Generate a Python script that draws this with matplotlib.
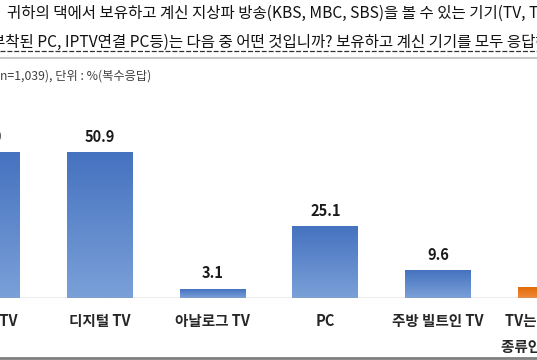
import numpy as np
import matplotlib
matplotlib.use("Agg")
import matplotlib.pyplot as plt
from matplotlib.colors import LinearSegmentedColormap
from matplotlib.lines import Line2D

plt.rcParams['font.family'] = ['Noto Sans CJK KR', 'DejaVu Sans']

# data (first and last bars are cut off at the edges)
categories = ['스마트 TV', '디지털 TV', '아날로그 TV', 'PC', '주방 빌트인 TV', 'TV는 없고 다른\n종류인 기기 보유']
values = [51.0, 50.9, 3.1, 25.1, 9.6, 3.8]
labels = ['51.0', '50.9', '3.1', '25.1', '9.6', '3.8']
is_other = [False, False, False, False, False, True]

header1 = '귀하의 댁에서 보유하고 계신 지상파 방송(KBS, MBC, SBS)을 볼 수 있는 기기(TV, TV수신카드'
header2 = '부착된 PC, IPTV연결 PC등)는 다음 중 어떤 것입니까? 보유하고 계신 기기를 모두 응답해 주십시오.'
note = 'n=1,039), 단위 : %(복수응답)'

W, H = 537, 360
fig = plt.figure(figsize=(W / 100, H / 100), dpi=100)

def fx(px):
    return px / W

def fy(py):
    return 1 - py / H

fig.text(fx(7), fy(13), header1, fontsize=11.2, va='center', ha='left', color='#111111')
fig.text(fx(-9), fy(42), header2, fontsize=11.2, va='center', ha='left', color='#111111')
# dashed underline of the second line
fig.add_artist(Line2D([0, 1], [fy(51), fy(51)], transform=fig.transFigure,
                      color='#333333', lw=0.9, dashes=(4, 1.5)))
# grey rules
fig.add_artist(Line2D([0, 1], [fy(58), fy(58)], transform=fig.transFigure, color='#c8c8c8', lw=1.5))
fig.add_artist(Line2D([0, 1], [fy(358), fy(358)], transform=fig.transFigure, color='#7f7f7f', lw=2))

fig.text(fx(0), fy(76), note, fontsize=8.8, va='center', ha='left', color='#404040')

# axes: baseline at y=298px, 2.85 px per percent
ax = fig.add_axes([0, fy(298), 1, 200 / H])
x = np.arange(len(values))
bw = 0.585
blue = LinearSegmentedColormap.from_list('b', ['#4673c0', '#7aa0d8'])
orange = LinearSegmentedColormap.from_list('o', ['#e46c0a', '#f08a3a'])
grad = np.linspace(1, 0, 64).reshape(-1, 1)
for xi, v, lab, oth in zip(x, values, labels, is_other):
    ax.imshow(grad, extent=[xi - bw / 2, xi + bw / 2, 0, v], origin='lower',
              aspect='auto', cmap=orange if oth else blue, zorder=2)
    ax.text(xi, v + 5.6, lab, ha='center', va='center', fontsize=10.5,
            fontweight='bold', color='#1a1a1a')
    ax.text(xi, -5.2, categories[int(xi)], ha='center', va='top', fontsize=10.5,
            fontweight='bold', color='#262626', linespacing=1.75, clip_on=False)

ax.axhline(0, color='#a0a0a0', lw=1, zorder=3)
ax.set_xlim((0 + 13) / 112.8, (W + 13) / 112.8)
ax.set_ylim(0, 200 / 2.85)
ax.axis('off')

fig.savefig('out.png', dpi=100)
